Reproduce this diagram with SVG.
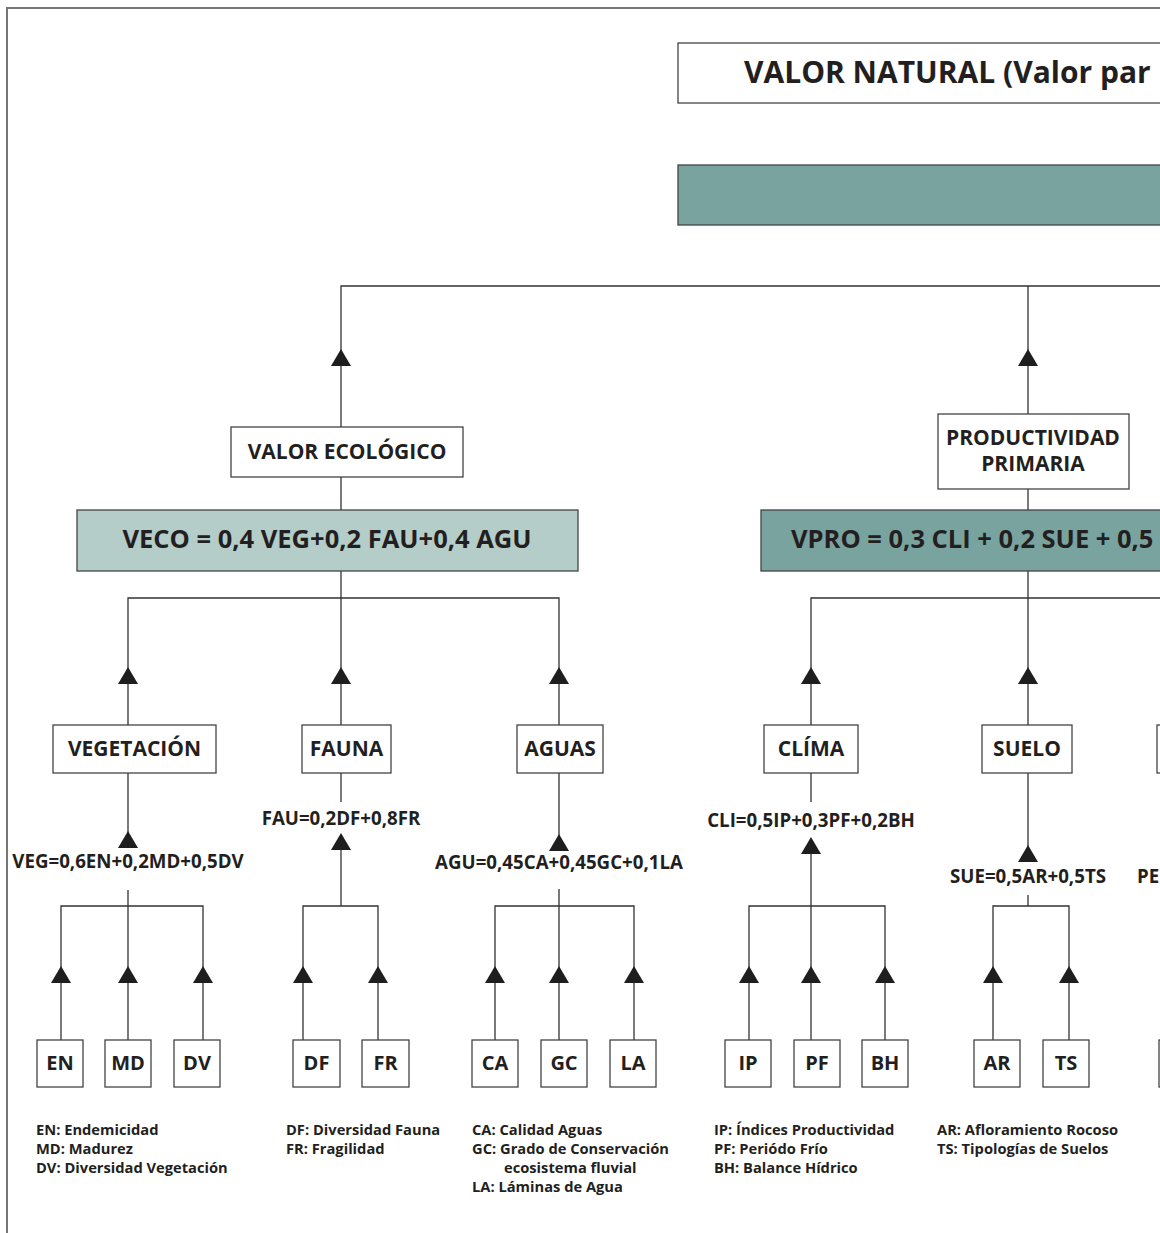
<svg xmlns="http://www.w3.org/2000/svg" xmlns:xlink="http://www.w3.org/1999/xlink" width="1160" height="1233" viewBox="0 0 1160 1233">
  <style>
    .frame { fill: none; stroke: #777; stroke-width: 2; }
    .box { fill: #fff; stroke: #444; stroke-width: 1.3; }
    .dark { fill: #79a39e; stroke: #444; stroke-width: 1.3; }
    .light { fill: #b4cdc9; stroke: #444; stroke-width: 1.3; }
    .wire { fill: none; stroke: #333; stroke-width: 1.3; }
    .arrow { fill: #1e1e1e; }
    text { font-family: "Open Sans", "Noto Sans", "Liberation Sans", sans-serif; font-weight: bold; fill: #231f20; }
    .t-title { font-size: 30px; }
    .t-eq { font-size: 25.5px; text-anchor: middle; }
    .t-node { font-size: 21px; text-anchor: middle; }
    .t-f { font-size: 18.7px; text-anchor: middle; }
    .t-leaf { font-size: 20px; text-anchor: middle; }
    .t-key { font-size: 14.7px; }
  </style>
  <defs>
    <path id="tri" d="M0,0 L10,17 L-10,17 Z"/>
  </defs>

  <rect class="frame" x="7" y="8" width="1200" height="1260"/>

  <g id="connectors">
    <path class="wire" d="M341,427 V286 H1160 M1028,414 V286"/>
    <path class="wire" d="M341,477 V510 M341,571 V598 M128,725 V598 H559 V725 M341,598 V725"/>
    <path class="wire" d="M1028,489 V510 M1028,571 V598 M811,725 V598 H1160 M1028,598 V725"/>
    <path class="wire" d="M128,773 V848 M128,890 V1040 M61,1040 V906 H203 V1040"/>
    <path class="wire" d="M341,773 V802 M341,850 V906 M303,1040 V906 H378 V1040"/>
    <path class="wire" d="M559,773 V850 M559,889 V1040 M495,1040 V906 H634 V1040"/>
    <path class="wire" d="M811,773 V802 M811,853 V1040 M749,1040 V906 H885 V1040"/>
    <path class="wire" d="M1028,773 V861 M1028,895 V906 M993,1040 V906 H1069 V1040"/>
    <g class="arrow">
      <use xlink:href="#tri" x="341" y="349"/>
      <use xlink:href="#tri" x="1028" y="349"/>
      <use xlink:href="#tri" x="128" y="667"/>
      <use xlink:href="#tri" x="341" y="667"/>
      <use xlink:href="#tri" x="559" y="667"/>
      <use xlink:href="#tri" x="811" y="667"/>
      <use xlink:href="#tri" x="1028" y="667"/>
      <use xlink:href="#tri" x="128" y="831"/>
      <use xlink:href="#tri" x="341" y="833"/>
      <use xlink:href="#tri" x="559" y="834"/>
      <use xlink:href="#tri" x="811" y="837"/>
      <use xlink:href="#tri" x="1028" y="845"/>
      <use xlink:href="#tri" x="61" y="966"/>
      <use xlink:href="#tri" x="128" y="966"/>
      <use xlink:href="#tri" x="203" y="966"/>
      <use xlink:href="#tri" x="303" y="966"/>
      <use xlink:href="#tri" x="378" y="966"/>
      <use xlink:href="#tri" x="495" y="966"/>
      <use xlink:href="#tri" x="559" y="966"/>
      <use xlink:href="#tri" x="634" y="966"/>
      <use xlink:href="#tri" x="749" y="966"/>
      <use xlink:href="#tri" x="811" y="966"/>
      <use xlink:href="#tri" x="885" y="966"/>
      <use xlink:href="#tri" x="993" y="966"/>
      <use xlink:href="#tri" x="1069" y="966"/>
    </g>
  </g>

  <g id="valor-natural">
    <rect class="box" x="678" y="43" width="600" height="60"/>
    <text class="t-title" x="744" y="83">VALOR NATURAL (Valor par</text>
  </g>
  <g id="valor-natural-eq">
    <rect class="dark" x="678" y="165" width="600" height="60"/>
  </g>

  <g id="valor-ecologico">
    <rect class="box" x="231" y="427" width="232" height="50"/>
    <text class="t-node" x="347" y="459">VALOR ECOLÓGICO</text>
  </g>
  <g id="veco">
    <rect class="light" x="77" y="510" width="501" height="61"/>
    <text class="t-eq" x="327" y="548">VECO = 0,4 VEG+0,2 FAU+0,4 AGU</text>
  </g>
  <g id="productividad">
    <rect class="box" x="938" y="414" width="191" height="75"/>
    <text class="t-node" x="1033" y="445">PRODUCTIVIDAD</text>
    <text class="t-node" x="1033" y="471">PRIMARIA</text>
  </g>
  <g id="vpro">
    <rect class="dark" x="761" y="510" width="500" height="61"/>
    <text class="t-eq" x="791" y="548" style="text-anchor:start">VPRO = 0,3 CLI + 0,2 SUE + 0,5</text>
  </g>

  <g id="vegetacion">
    <rect class="box" x="53" y="725" width="163" height="48"/>
    <text class="t-node" x="134.5" y="756">VEGETACIÓN</text>
    <text class="t-f" x="128" y="868">VEG=0,6EN+0,2MD+0,5DV</text>
  </g>
  <g id="fauna">
    <rect class="box" x="302" y="725" width="89" height="48"/>
    <text class="t-node" x="346.5" y="756">FAUNA</text>
    <text class="t-f" x="341" y="825">FAU=0,2DF+0,8FR</text>
  </g>
  <g id="aguas">
    <rect class="box" x="517" y="725" width="86" height="48"/>
    <text class="t-node" x="560" y="756">AGUAS</text>
    <text class="t-f" x="559" y="869">AGU=0,45CA+0,45GC+0,1LA</text>
  </g>
  <g id="clima">
    <rect class="box" x="764" y="725" width="94" height="48"/>
    <text class="t-node" x="811" y="756">CLÍMA</text>
    <text class="t-f" x="811" y="827">CLI=0,5IP+0,3PF+0,2BH</text>
  </g>
  <g id="suelo">
    <rect class="box" x="982" y="725" width="90" height="48"/>
    <text class="t-node" x="1027" y="756">SUELO</text>
    <text class="t-f" x="1028" y="883">SUE=0,5AR+0,5TS</text>
  </g>
  <g id="pe">
    <rect class="box" x="1157" y="725" width="90" height="48"/>
    <text class="t-f" x="1137" y="883" style="text-anchor:start">PE</text>
  </g>

  <g id="en"><rect class="box" x="37" y="1040" width="46" height="47"/><text class="t-leaf" x="60" y="1070">EN</text></g>
  <g id="md"><rect class="box" x="105" y="1040" width="46" height="47"/><text class="t-leaf" x="128" y="1070">MD</text></g>
  <g id="dv"><rect class="box" x="174" y="1040" width="46" height="47"/><text class="t-leaf" x="197" y="1070">DV</text></g>
  <g id="df"><rect class="box" x="293" y="1040" width="47" height="47"/><text class="t-leaf" x="316.5" y="1070">DF</text></g>
  <g id="fr"><rect class="box" x="362" y="1040" width="47" height="47"/><text class="t-leaf" x="385.5" y="1070">FR</text></g>
  <g id="ca"><rect class="box" x="472" y="1040" width="46" height="47"/><text class="t-leaf" x="495" y="1070">CA</text></g>
  <g id="gc"><rect class="box" x="541" y="1040" width="46" height="47"/><text class="t-leaf" x="564" y="1070">GC</text></g>
  <g id="la"><rect class="box" x="610" y="1040" width="46" height="47"/><text class="t-leaf" x="633" y="1070">LA</text></g>
  <g id="ip"><rect class="box" x="725" y="1040" width="46" height="47"/><text class="t-leaf" x="748" y="1070">IP</text></g>
  <g id="pf"><rect class="box" x="794" y="1040" width="46" height="47"/><text class="t-leaf" x="817" y="1070">PF</text></g>
  <g id="bh"><rect class="box" x="862" y="1040" width="46" height="47"/><text class="t-leaf" x="885" y="1070">BH</text></g>
  <g id="ar"><rect class="box" x="974" y="1040" width="46" height="47"/><text class="t-leaf" x="997" y="1070">AR</text></g>
  <g id="ts"><rect class="box" x="1043" y="1040" width="46" height="47"/><text class="t-leaf" x="1066" y="1070">TS</text></g>
  <g id="pe-leaf"><rect class="box" x="1159" y="1040" width="46" height="47"/></g>

  <g id="key">
    <text class="t-key" x="36" y="1135">EN: Endemicidad</text>
    <text class="t-key" x="36" y="1154">MD: Madurez</text>
    <text class="t-key" x="36" y="1173">DV: Diversidad Vegetación</text>
    <text class="t-key" x="286" y="1135">DF: Diversidad Fauna</text>
    <text class="t-key" x="286" y="1154">FR: Fragilidad</text>
    <text class="t-key" x="472" y="1135">CA: Calidad Aguas</text>
    <text class="t-key" x="472" y="1154">GC: Grado de Conservación</text>
    <text class="t-key" x="504" y="1173">ecosistema fluvial</text>
    <text class="t-key" x="472" y="1192">LA: Láminas de Agua</text>
    <text class="t-key" x="714" y="1135">IP: Índices Productividad</text>
    <text class="t-key" x="714" y="1154">PF: Periódo Frío</text>
    <text class="t-key" x="714" y="1173">BH: Balance Hídrico</text>
    <text class="t-key" x="937" y="1135">AR: Afloramiento Rocoso</text>
    <text class="t-key" x="937" y="1154">TS: Tipologías de Suelos</text>
  </g>
</svg>
